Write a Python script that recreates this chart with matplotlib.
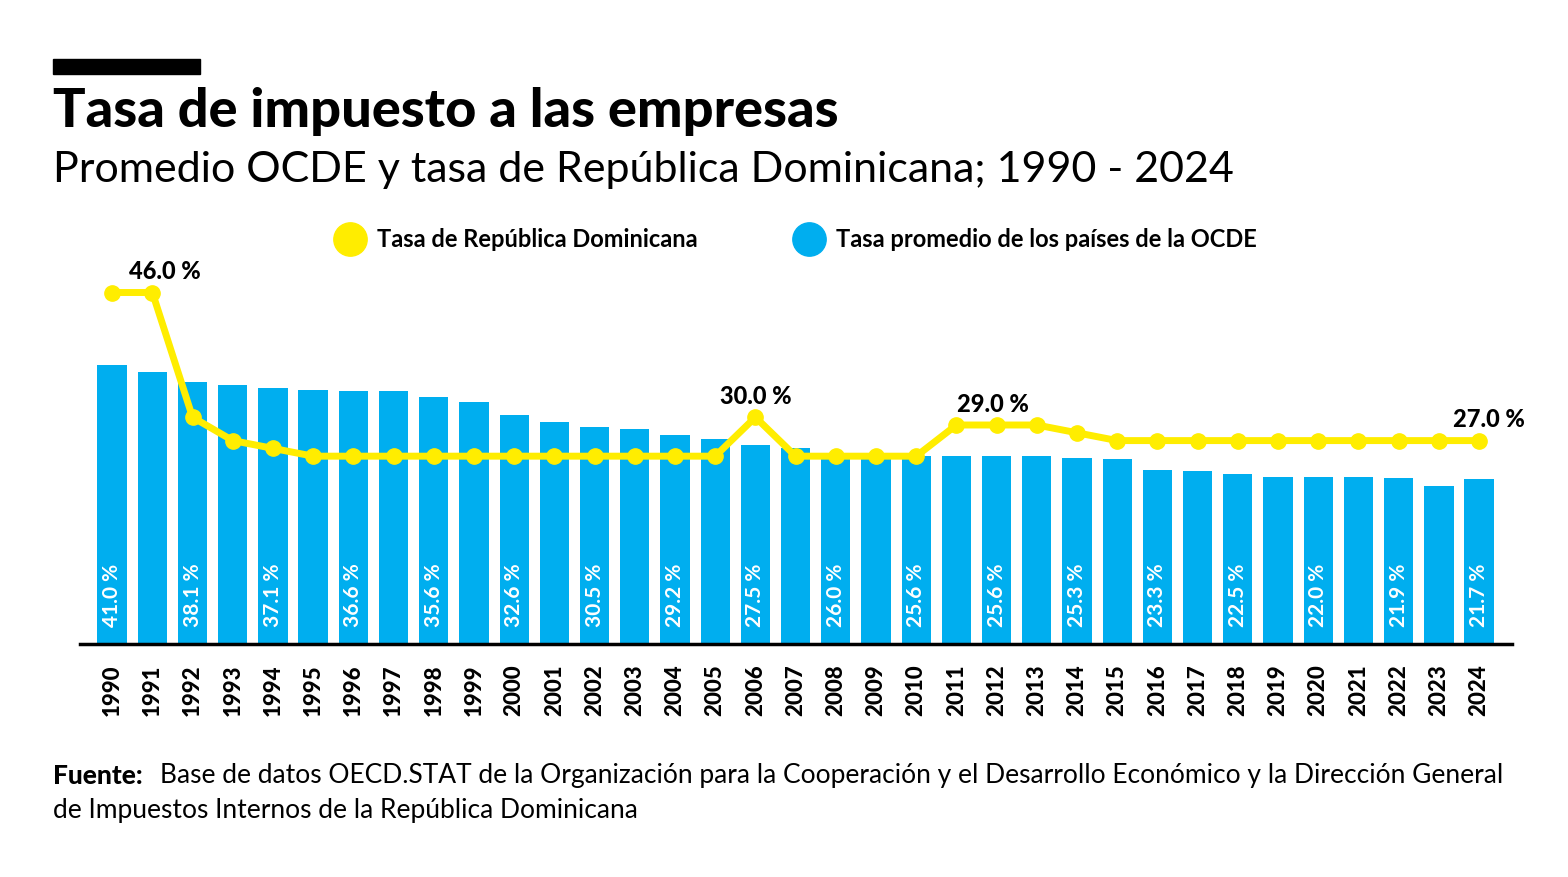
import matplotlib
matplotlib.use("Agg")
import matplotlib.pyplot as plt
from matplotlib.patches import Rectangle

years = list(range(1990, 2025))
ocde = [41.0, 39.8, 38.1, 37.6, 37.1, 36.8, 36.6, 36.6, 35.6, 34.8, 32.6, 31.4, 30.5, 30.1, 29.2, 28.4,
        27.5, 26.9, 26.0, 25.8, 25.6, 25.6, 25.6, 25.6, 25.3, 25.1, 23.3, 23.1, 22.5, 22.1, 22.0, 22.0,
        21.9, 20.6, 21.7]
rd = [46, 46, 30, 27, 26, 25, 25, 25, 25, 25, 25, 25, 25, 25, 25, 25, 30, 25, 25, 25, 25, 29, 29, 29,
      28, 27, 27, 27, 27, 27, 27, 27, 27, 27, 27]

BLUE = "#00AEEF"
YEL = "#FFED00"
plt.rcParams['font.family'] = ['Lato', 'DejaVu Sans']

fig = plt.figure(figsize=(15.68, 8.78), dpi=100)
fig.patches.append(Rectangle((53/1568, 1-75/878), 147/1568, 15/878, transform=fig.transFigure,
                             color="black", zorder=5))
fig.text(53/1568, 1-112/878, "Tasa de impuesto a las empresas", fontsize=39, fontweight='black',
         va='center', ha='left')
fig.text(53/1568, 1-170/878, "Promedio OCDE y tasa de República Dominicana; 1990 - 2024", fontsize=31,
         va='center', ha='left')

ax = fig.add_axes([80/1568, 1-645/878, 1432/1568, 385/878])
x = list(range(len(years)))
YMIN = -6.27
ax.bar(x, [v - YMIN for v in ocde], bottom=YMIN, width=0.73, color=BLUE, zorder=2)
ax.set_xlim(-0.8, len(years) - 1 + 0.82)
ax.set_ylim(YMIN, 59)
for s in ['top', 'left', 'right']:
    ax.spines[s].set_visible(False)
ax.spines['bottom'].set_linewidth(2.5)
ax.spines['bottom'].set_zorder(5)
ax.set_yticks([])
ax.set_xticks(x)
ax.set_xticklabels([str(y) for y in years], rotation=90, fontsize=16, fontweight='black')
ax.tick_params(axis='x', length=0, pad=14)
for i in range(0, len(years), 2):
    ax.text(i, YMIN + 3.0, f"{ocde[i]:.1f} %", rotation=90, color="white", fontsize=15, fontweight='bold',
            ha='center', va='bottom', zorder=3)

ax2 = ax.twinx()
ax2.set_ylim(0.9, 50.3)
ax2.axis('off')
ax2.plot(x, rd, color=YEL, lw=5, marker='o', ms=11, zorder=4, solid_joinstyle='round')
ax2.text(1.3, 47.3, "46.0 %", fontsize=17, fontweight='black', ha='center', va='bottom')
ax2.text(16, 31.3, "30.0 %", fontsize=17, fontweight='black', ha='center', va='bottom')
ax2.text(21.9, 30.3, "29.0 %", fontsize=17, fontweight='black', ha='center', va='bottom')
ax2.text(34.25, 28.3, "27.0 %", fontsize=17, fontweight='black', ha='center', va='bottom')

# legend
ly = 1-240/878
fig.lines.append(plt.Line2D([350/1568], [ly], marker='o', ms=24, color=YEL, transform=fig.transFigure))
fig.text(377/1568, ly, "Tasa de República Dominicana", fontsize=17, fontweight='bold', va='center')
fig.lines.append(plt.Line2D([809/1568], [ly], marker='o', ms=24, color=BLUE, transform=fig.transFigure))
fig.text(836/1568, ly, "Tasa promedio de los países de la OCDE", fontsize=17, fontweight='bold', va='center')

fig.text(53/1568, 1-776/878, "Fuente:", fontsize=19, fontweight='black', va='center')
fig.text(160/1568, 1-776/878, "Base de datos OECD.STAT de la Organización para la Cooperación y el Desarrollo Económico y la Dirección General",
         fontsize=19, va='center')
fig.text(53/1568, 1-811/878, "de Impuestos Internos de la República Dominicana", fontsize=19, va='center')

fig.savefig("out.png", dpi=100)
